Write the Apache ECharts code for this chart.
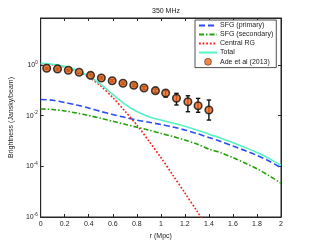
<!DOCTYPE html>
<html><head><meta charset="utf-8">
<script src="https://cdn.jsdelivr.net/npm/echarts@6/dist/echarts.min.js"></script>
<style>html,body{margin:0;padding:0;background:#fff}#c{width:311px;height:245px}</style>
</head><body><div id="c"></div>
<script>
// radius grid (Mpc) for model curves
const rGrid = [0,0.1,0.2,0.3,0.4,0.5,0.6,0.7,0.8,0.9,1.0,1.1,1.2,1.3,1.4,1.5,1.6,1.7,1.8,1.9,2.0];
const sfgPrimary = [0.0435,0.0408,0.0331,0.0264,0.0201,0.0146,0.0111,0.0086,0.0067,0.0055,0.0045,0.00357,0.00272,0.00198,0.00137,0.00096,0.00063,0.00042,0.00027,0.000162,0.000088];
const sfgSecondary = [0.0183,0.0175,0.0153,0.0127,0.0101,0.0079,0.0060,0.0046,0.0035,0.0027,0.0020,0.0015,0.00109,0.00076,0.00048,0.00034,0.00022,0.000135,0.00008,0.000043,0.0000214];
const rCentral = [0,0.1,0.2,0.3,0.4,0.5,0.6,0.7,0.8,0.9,1.0,1.1,1.2,1.3,1.4,1.5];
const centralRG = [1.095,1.018,0.834,0.580,0.336,0.148,0.0521,0.0153,0.00428,0.00100,0.000223,0.000045,0.0000089,0.00000172,0.000000335,0.00000006];
const total = [1.157,1.076,0.882,0.619,0.366,0.171,0.069,0.0285,0.0145,0.0091,0.0067,0.00512,0.00382,0.00274,0.00186,0.00129,0.00085,0.00056,0.00035,0.000206,0.00011];
// Ade et al (2013) data points
const adeR = [0.05,0.14,0.23,0.32,0.415,0.505,0.595,0.685,0.775,0.86,0.955,1.04,1.13,1.225,1.31,1.4];
const adeVal = [0.74,0.70,0.62,0.515,0.39,0.307,0.24,0.19,0.158,0.124,0.097,0.0785,0.049,0.0356,0.0247,0.0167];
const adeHigh = [0.80,0.76,0.67,0.56,0.43,0.34,0.265,0.21,0.176,0.139,0.112,0.097,0.076,0.061,0.048,0.0415];
const adeLow = [0.68,0.64,0.57,0.47,0.355,0.28,0.217,0.171,0.141,0.109,0.083,0.054,0.0264,0.0143,0.0136,0.0067];
// y tick exponents (log10 of Jansky/beam)
const yTickExp = [-6,-4,-2,0];
const yMinExp = -6, yMaxExp = 1.855;

const FONT = 'Liberation Sans, Arial, sans-serif';
const lg = v => Math.log10(v);
const pairs = (xs, ys) => xs.map((x,i)=>[x, lg(ys[i])]);

const chart = echarts.init(document.getElementById('c'), null, {renderer:'canvas'});
const axisCommon = () => ({
  axisLine:{show:true, onZero:false, lineStyle:{color:'#262626', width:1}},
  axisTick:{show:true, inside:true, length:3, lineStyle:{color:'#262626'}},
  splitLine:{show:false}
});
const hideSym = {opacity:0};
chart.setOption({
  animation:false,
  backgroundColor:'#fff',
  title:{text:'350 MHz', left:147, top:3, textStyle:{fontSize:7, fontWeight:'normal', color:'#222', fontFamily:FONT}},
  legend:{
    data:[
      {name:'SFG (primary)', itemStyle:hideSym},
      {name:'SFG (secondary)', itemStyle:hideSym},
      {name:'Central RG', itemStyle:hideSym},
      {name:'Total', itemStyle:hideSym},
      {name:'Ade et al (2013)', itemStyle:{borderWidth:0.6}}
    ],
    orient:'vertical', left:195, top:20, itemWidth:18, itemHeight:7, itemGap:2,
    padding:[2,3,2,3], borderColor:'#222', borderWidth:0.8, backgroundColor:'#fff',
    textStyle:{fontSize:7, color:'#222', fontFamily:FONT, padding:[0,0,0,-2]}
  },
  grid:{left:40, right:30, top:18, bottom:28, show:true, borderColor:'#262626', borderWidth:1, backgroundColor:'#fff'},
  xAxis:[
    Object.assign(axisCommon(), {type:'value', min:0, max:2, interval:0.2, position:'bottom',
      name:'r (Mpc)', nameLocation:'middle', nameGap:13,
      nameTextStyle:{fontSize:7, color:'#222', fontFamily:FONT},
      axisLabel:{fontSize:7, color:'#222', fontFamily:FONT, margin:4}}),
    Object.assign(axisCommon(), {type:'value', min:0, max:2, interval:0.2, position:'top', axisLabel:{show:false}})
  ],
  yAxis:[
    Object.assign(axisCommon(), {type:'value', min:yMinExp, max:yMaxExp, interval:2, position:'left',
      name:'Brightness (Jansky/beam)', nameLocation:'middle', nameGap:17,
      nameTextStyle:{fontSize:7, color:'#222', fontFamily:FONT},
      axisLabel:{showMaxLabel:false, margin:3, fontFamily:FONT, color:'#222',
        formatter:v => yTickExp.indexOf(Math.round(v))>=0 && Math.abs(v-Math.round(v))<1e-6 ? '{b|10}{s|'+Math.round(v)+'}' : '',
        rich:{b:{fontSize:7, color:'#222', fontFamily:FONT}, s:{fontSize:4.5, color:'#222', fontFamily:FONT, padding:[0,0,5,0]}}}}),
    Object.assign(axisCommon(), {type:'value', min:yMinExp, max:yMaxExp, interval:2, position:'right', axisLabel:{show:false}})
  ],
  series:[
    {name:'SFG (primary)', type:'line', data:pairs(rGrid,sfgPrimary), symbol:'none', smooth:0.3,
     lineStyle:{color:'#2a4cf2', width:1.6, type:[6,3]}, itemStyle:{color:'#2a4cf2'}},
    {name:'SFG (secondary)', type:'line', data:pairs(rGrid,sfgSecondary), symbol:'none', smooth:0.3,
     lineStyle:{color:'#23a10a', width:1.6, type:[5,2,1.5,2]}, itemStyle:{color:'#23a10a'}},
    {name:'Central RG', type:'line', data:pairs(rCentral,centralRG), symbol:'none', smooth:0.3, clip:true,
     lineStyle:{color:'#ff1e1e', width:1.6, type:[1.8,1.8]}, itemStyle:{color:'#ff1e1e'}},
    {name:'Total', type:'line', data:pairs(rGrid,total), symbol:'none', smooth:0.3,
     lineStyle:{color:'#55f2c4', width:1.6}, itemStyle:{color:'#55f2c4'}},
    {name:'errbars', type:'custom', data:adeR.map((r,i)=>[r, lg(adeLow[i]), lg(adeHigh[i])]), z:3,
     renderItem:(params, api)=>{
       const lo = api.coord([api.value(0), api.value(1)]);
       const hi = api.coord([api.value(0), api.value(2)]);
       const w = 2.2;
       const st = {stroke:'#111', lineWidth:1.4};
       return {type:'group', children:[
         {type:'line', shape:{x1:lo[0], y1:lo[1], x2:hi[0], y2:hi[1]}, style:st},
         {type:'line', shape:{x1:lo[0]-w, y1:lo[1], x2:lo[0]+w, y2:lo[1]}, style:st},
         {type:'line', shape:{x1:hi[0]-w, y1:hi[1], x2:hi[0]+w, y2:hi[1]}, style:st}
       ]};
     }},
    {name:'Ade et al (2013)', type:'scatter', data:pairs(adeR,adeVal), symbol:'circle', symbolSize:7.5, z:4,
     itemStyle:{color:'#f0661a', borderColor:'#111', borderWidth:1.6}}
  ]
});
</script></body></html>
